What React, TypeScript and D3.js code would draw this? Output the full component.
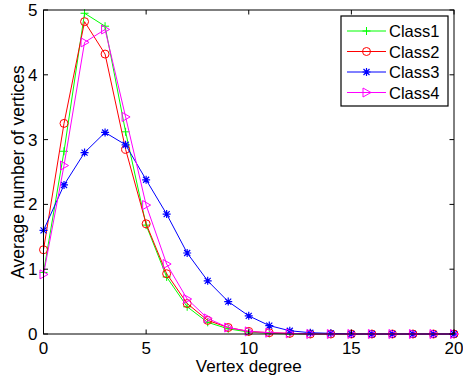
import React from "react";
import * as d3 from "d3";

const degrees = d3.range(0, 21);
const class1 = [0.95, 2.82, 4.95, 4.75, 3.12, 1.68, 0.88, 0.42, 0.18, 0.08, 0.03, 0.01, 0, 0, 0, 0, 0, 0, 0, 0, 0];
const class2 = [1.3, 3.25, 4.82, 4.32, 2.85, 1.7, 0.93, 0.47, 0.21, 0.1, 0.04, 0.02, 0.01, 0, 0, 0, 0, 0, 0, 0, 0];
const class3 = [1.6, 2.3, 2.8, 3.11, 2.92, 2.38, 1.85, 1.25, 0.82, 0.5, 0.28, 0.13, 0.05, 0.02, 0.01, 0, 0, 0, 0, 0, 0];
const class4 = [0.92, 2.6, 4.5, 4.7, 3.35, 1.99, 1.08, 0.54, 0.24, 0.1, 0.04, 0.02, 0.01, 0, 0, 0, 0, 0, 0, 0, 0];
const seriesNames = ["Class1", "Class2", "Class3", "Class4"];
const seriesColors = ["#00ff00", "#ff0000", "#0000ff", "#ff00ff"];
const seriesMarkers = ["plus", "circle", "star", "triangle"];
const xTicks = [0, 5, 10, 15, 20];
const yTicks = [0, 1, 2, 3, 4, 5];

const W = 463;
const H = 380;
const m = { left: 43.5, right: 9, top: 10, bottom: 46 };
const font = "'Liberation Sans', Arial, Helvetica, sans-serif";
const fs = 17;

function Marker({ kind, x, y, color }: { kind: string; x: number; y: number; color: string }) {
  const s = 4;
  if (kind === "plus")
    return <path d={`M${x - s},${y}H${x + s}M${x},${y - s}V${y + s}`} stroke={color} fill="none" />;
  if (kind === "circle") return <circle cx={x} cy={y} r={4} stroke={color} fill="none" />;
  if (kind === "star") {
    const d = s * 0.75;
    return (
      <path
        d={`M${x - s},${y}H${x + s}M${x},${y - s}V${y + s}M${x - d},${y - d}L${x + d},${y + d}M${x - d},${y + d}L${x + d},${y - d}`}
        stroke={color}
        strokeWidth={1.2}
        fill="none"
      />
    );
  }
  return <path d={`M${x - 3.5},${y - 4.5}L${x + 4.5},${y}L${x - 3.5},${y + 4.5}Z`} stroke={color} fill="none" />;
}

export default function App() {
  const data = [class1, class2, class3, class4];
  const x = d3.scaleLinear().domain([0, 20]).range([m.left, W - m.right]);
  const y = d3.scaleLinear().domain([0, 5]).range([H - m.bottom, m.top]);
  const line = d3
    .line<number>()
    .x((_, i) => x(degrees[i]))
    .y((v) => y(v));
  const [x0, x1] = x.range();
  const [y0, y1] = y.range();
  const tl = 4.5;

  const lg = { x: 341, y: 16, w: 107, h: 90 };

  return (
    <svg width={W} height={H} style={{ position: "absolute", left: 0, top: 0, background: "#fff" }} fontFamily={font}>
      <rect x={0} y={0} width={W} height={H} fill="#fff" />
      {data.map((vals, si) => (
        <g key={seriesNames[si]}>
          <path d={line(vals) ?? ""} fill="none" stroke={seriesColors[si]} strokeWidth={1} />
          {vals.map((v, i) => (
            <Marker key={i} kind={seriesMarkers[si]} x={x(degrees[i])} y={y(v)} color={seriesColors[si]} />
          ))}
        </g>
      ))}
      <rect x={x0} y={y1} width={x1 - x0} height={y0 - y1} fill="none" stroke="#000" strokeWidth={1} />
      {xTicks.map((t) => (
        <g key={t}>
          <line x1={x(t)} x2={x(t)} y1={y0} y2={y0 - tl} stroke="#000" />
          <line x1={x(t)} x2={x(t)} y1={y1} y2={y1 + tl} stroke="#000" />
          <text x={x(t)} y={354} textAnchor="middle" fontSize={fs}>
            {t}
          </text>
        </g>
      ))}
      {yTicks.map((t) => (
        <g key={t}>
          <line x1={x0} x2={x0 + tl} y1={y(t)} y2={y(t)} stroke="#000" />
          <line x1={x1} x2={x1 - tl} y1={y(t)} y2={y(t)} stroke="#000" />
          <text x={37.5} y={y(t) + 6} textAnchor="end" fontSize={fs}>
            {t}
          </text>
        </g>
      ))}
      <text x={(x0 + x1) / 2} y={372} textAnchor="middle" fontSize={fs}>
        Vertex degree
      </text>
      <text
        transform={`translate(23.5,${(y0 + y1) / 2}) rotate(-90)`}
        textAnchor="middle"
        fontSize={17.5}
      >
        Average number of vertices
      </text>
      <g>
        <rect x={lg.x} y={lg.y} width={lg.w} height={lg.h} fill="#fff" stroke="#000" strokeWidth={1.2} />
        {seriesNames.map((name, i) => {
          const yy = lg.y + 15 + i * 20.5;
          return (
            <g key={name}>
              <line x1={lg.x + 6} x2={lg.x + 45} y1={yy} y2={yy} stroke={seriesColors[i]} />
              <Marker kind={seriesMarkers[i]} x={lg.x + 25.5} y={yy} color={seriesColors[i]} />
              <text x={lg.x + 48} y={yy + 6} fontSize={16.5}>
                {name}
              </text>
            </g>
          );
        })}
      </g>
    </svg>
  );
}
